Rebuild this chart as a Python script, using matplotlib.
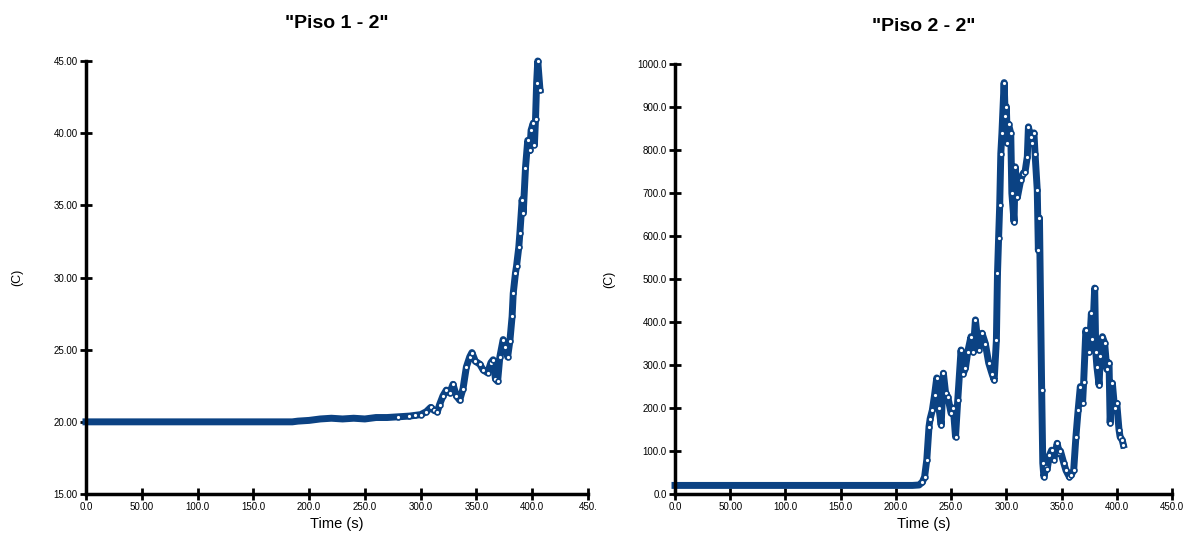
import matplotlib.pyplot as plt

# Piso 1 - 2
t1 = [0, 20, 40, 60, 80, 100, 120, 140, 160, 180, 185, 190, 200, 210, 220, 230,
      240, 250, 260, 270, 280, 290, 295, 300, 305, 309, 312, 315, 317, 320, 323,
      326, 329, 332, 335, 338, 341, 344, 346, 349, 353, 356, 360, 363, 365, 367,
      369, 371, 374, 376, 378, 380, 382, 383, 385, 386, 388, 389, 391, 392, 394,
      396, 398, 399, 401, 402, 403, 404, 405, 407]
v1 = [20.0, 20.0, 20.0, 20.0, 20.0, 20.0, 20.0, 20.0, 20.0, 20.0, 20.0, 20.05, 20.1, 20.2, 20.25, 20.2,
      20.25, 20.2, 20.3, 20.3, 20.35, 20.4, 20.45, 20.5, 20.7, 21.0, 20.8, 20.7, 21.2, 21.8, 22.2,
      22.0, 22.6, 21.8, 21.5, 22.3, 23.8, 24.5, 24.8, 24.2, 24.0, 23.6, 23.4, 24.1, 24.3, 23.0,
      22.8, 24.5, 25.7, 25.2, 24.5, 25.6, 27.3, 28.9, 30.3, 30.8, 32.1, 33.1, 35.4, 34.5, 37.6,
      39.5, 38.8, 40.2, 40.7, 39.2, 41.0, 43.5, 45.0, 43.0]

# Piso 2 - 2
t2 = [0, 50, 100, 150, 200, 215, 221, 224, 226, 228, 230, 231, 233, 235, 237, 239,
      241, 243, 245, 247, 250, 252, 254, 256, 259, 261, 263, 265, 268, 270, 272,
      275, 278, 281, 284, 287, 289, 291, 292, 293, 294, 295, 296, 298, 299, 300,
      301, 302, 304, 305, 307, 308, 310, 313, 315, 317, 319, 320, 322, 323, 325,
      326, 328, 329, 330, 332, 333, 334, 336, 337, 339, 341, 343, 346, 348, 349,
      352, 354, 357, 359, 361, 363, 365, 367, 369, 370, 372, 375, 377, 378, 380,
      381, 382, 384, 385, 387, 389, 391, 393, 394, 396, 398, 400, 402, 403, 405, 406]
v2 = [20, 20, 20, 20, 20, 20, 21, 28, 40, 80, 157, 175, 195, 230, 270, 200,
      160, 281, 235, 226, 188, 200, 133, 218, 335, 280, 293, 330, 366, 330, 405,
      335, 374, 350, 305, 280, 265, 358, 513, 595, 672, 792, 839, 957, 880, 901,
      816, 860, 839, 700, 633, 761, 690, 730, 745, 750, 785, 854, 830, 816, 840,
      792, 707, 567, 642, 242, 72, 40, 64, 58, 90, 102, 80, 118, 95, 100,
      72, 55, 40, 45, 56, 133, 195, 250, 211, 260, 381, 330, 420, 360, 479,
      330, 296, 253, 320, 366, 351, 290, 305, 165, 258, 200, 211, 150, 133, 125, 114]

x_ticks = [0, 50, 100, 150, 200, 250, 300, 350, 400, 450]
x_labels_1 = ['0.0', '50.00', '100.0', '150.0', '200.0', '250.0', '300.0', '350.0', '400.0', '450.']
x_labels_2 = ['0.0', '50.00', '100.0', '150.0', '200.0', '250.0', '300.0', '350.0', '400.0', '450.0']
y_ticks_1 = [15, 20, 25, 30, 35, 40, 45]
y_labels_1 = ['15.00', '20.00', '25.00', '30.00', '35.00', '40.00', '45.00']
y_ticks_2 = [0, 100, 200, 300, 400, 500, 600, 700, 800, 900, 1000]
y_labels_2 = ['0.0', '100.0', '200.0', '300.0', '400.0', '500.0', '600.0', '700.0', '800.0', '900.0', '1000.0']

line_color = '#0b4283'
tick_font = ['Liberation Sans Narrow', 'Liberation Sans', 'DejaVu Sans']

fig = plt.figure(figsize=(11.89, 5.35), dpi=100)
ax1 = fig.add_axes([0.0723, 0.0766, 0.4222, 0.8094])
ax2 = fig.add_axes([0.5677, 0.0766, 0.4180, 0.8036])


def style_axis(ax, title, xt, xl, yt, yl, ylim, ylab_pad):
    ax.set_xlim(0, 450)
    ax.set_ylim(*ylim)
    for side in ['top', 'right']:
        ax.spines[side].set_visible(False)
    for side in ['left', 'bottom']:
        ax.spines[side].set_linewidth(2.5)
        ax.spines[side].set_color('black')
        ax.spines[side].set_zorder(5)
    ax.set_xticks(xt)
    ax.set_xticklabels(xl, family=tick_font, fontsize=7)
    ax.set_yticks(yt)
    ax.set_yticklabels(yl, family=tick_font, fontsize=7)
    ax.tick_params(direction='inout', length=8, width=2, pad=2)
    ax.set_title(title, fontsize=14, fontweight='bold', family='Liberation Sans', pad=24)
    ax.set_xlabel('Time (s)', fontsize=10.5, family='Liberation Sans', labelpad=3)
    ax.set_ylabel('(C)', fontsize=9, family='Liberation Sans', labelpad=ylab_pad)


# flat part of each curve has no visible markers in the original
for ax, t, v, k in [(ax1, t1, v1, 20), (ax2, t2, v2, 7)]:
    ax.plot(t, v, color=line_color, lw=5, solid_joinstyle='round', zorder=3, clip_on=False)
    ax.plot(t[k:], v[k:], 'o', color=line_color, ms=3.5, mfc='white', mec=line_color,
            mew=1.2, zorder=4, clip_on=False)

style_axis(ax1, '"Piso 1 - 2"', x_ticks, x_labels_1, y_ticks_1, y_labels_1, (15, 45), 22)
style_axis(ax2, '"Piso 2 - 2"', x_ticks, x_labels_2, y_ticks_2, y_labels_2, (0, 1000), 16)

fig.savefig('out.png', dpi=100)
